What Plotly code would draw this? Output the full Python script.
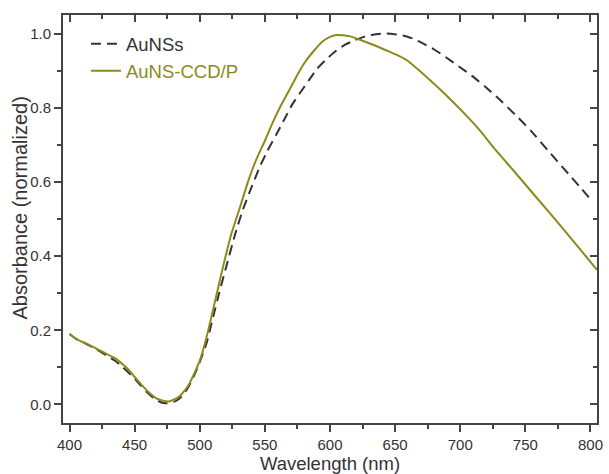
import plotly.graph_objects as go

# AuNSs (dashed)
wl_ref = [400, 405, 413, 420, 428, 435, 441, 447, 453, 459, 465, 470, 474, 478, 482, 486,
          490, 494, 499, 505, 510, 515, 521, 527, 533, 540, 546, 552, 559, 565, 571, 578,
          584, 590, 597, 603, 611, 619, 626, 633, 641, 648, 656, 664, 671, 680, 689,
          699, 709, 719, 729, 742, 755, 767, 780, 793, 800]
abs_ref = [0.19, 0.177, 0.163, 0.15, 0.133, 0.118, 0.10, 0.08, 0.058, 0.035, 0.016, 0.006,
           0.003, 0.005, 0.01, 0.021, 0.04, 0.065, 0.105, 0.163, 0.232, 0.302, 0.38, 0.457,
           0.524, 0.588, 0.640, 0.684, 0.729, 0.769, 0.809, 0.845, 0.875, 0.905, 0.93, 0.949,
           0.969, 0.982, 0.991, 0.997, 1.0, 0.999, 0.995, 0.986, 0.974, 0.957, 0.936,
           0.911, 0.886, 0.857, 0.826, 0.782, 0.735, 0.686, 0.634, 0.582, 0.553]

# AuNS-CCD/P (solid olive)
wl_ccd = [400, 405, 413, 420, 428, 435, 441, 445, 450, 455, 461, 466, 471, 476, 480, 484,
          489, 492, 496, 500, 504, 508, 513, 518, 524, 531, 537, 543, 550, 556, 562, 569,
          575, 581, 588, 594, 600, 605, 610, 615, 620, 627, 635, 643, 651, 659, 667, 675,
          690, 706, 716, 725, 742, 759, 775, 790, 805]
abs_ccd = [0.19, 0.177, 0.164, 0.152, 0.137, 0.125, 0.108, 0.095, 0.074, 0.054, 0.032,
           0.018, 0.011, 0.008, 0.013, 0.021, 0.04, 0.056, 0.085, 0.118, 0.165, 0.222, 0.298,
           0.373, 0.457, 0.533, 0.600, 0.657, 0.711, 0.760, 0.804, 0.849, 0.889, 0.924,
           0.955, 0.978, 0.991, 0.996, 0.9955, 0.993, 0.987, 0.978, 0.967, 0.955, 0.943,
           0.928, 0.905, 0.88, 0.831, 0.774, 0.735, 0.695, 0.626, 0.556, 0.49, 0.427, 0.363]

x_ticks = [400, 450, 500, 550, 600, 650, 700, 750, 800]
y_ticks = [0.0, 0.2, 0.4, 0.6, 0.8, 1.0]

OLIVE = "#8c8a1a"
DARK = "#333333"
AXC = "#444444"
FONT = "Liberation Sans, Arial, sans-serif"

fig = go.Figure()
fig.add_trace(go.Scatter(x=wl_ref, y=abs_ref, mode="lines", name="AuNSs",
                         line=dict(color=DARK, width=2, dash="10px,6px", shape="spline", smoothing=0.5)))
fig.add_trace(go.Scatter(x=wl_ccd, y=abs_ccd, mode="lines",
                         name=f"<span style='color:{OLIVE}'>AuNS-CCD/P</span>",
                         line=dict(color=OLIVE, width=2, shape="spline", smoothing=0.5)))
# dummy trace to realize the mirrored (top/right) axes
fig.add_trace(go.Scatter(x=[None], y=[None], xaxis="x2", yaxis="y2",
                         showlegend=False, hoverinfo="skip"))

xr = [395, 805]
yr = [-0.05, 1.05]

fig.update_layout(
    width=609, height=474,
    margin=dict(l=63, r=6, t=15, b=47),
    paper_bgcolor="white", plot_bgcolor="white",
    font=dict(family=FONT, color=DARK, size=15),
    showlegend=True,
    legend=dict(x=0.043, y=0.975, xanchor="left", yanchor="top",
                bgcolor="rgba(0,0,0,0)", font=dict(size=18.5, color=DARK),
                tracegroupgap=0),
    xaxis=dict(range=xr, tickvals=x_ticks, ticks="outside", ticklen=7, tickwidth=1.5,
               tickcolor=AXC, showline=True, linecolor=AXC, linewidth=2, showgrid=False,
               zeroline=False, tickfont=dict(size=15),
               minor=dict(ticks="outside", ticklen=4, tickwidth=1.5, tickcolor=AXC,
                          dtick=25, tick0=400, showgrid=False),
               title=dict(text="Wavelength (nm)", font=dict(size=18.5), standoff=2)),
    yaxis=dict(range=yr, tickvals=y_ticks, tickformat=".1f", ticks="outside", ticklen=7,
               tickwidth=1.5, tickcolor=AXC, showline=True, linecolor=AXC, linewidth=2,
               showgrid=False, zeroline=False, tickfont=dict(size=15),
               minor=dict(ticks="outside", ticklen=4, tickwidth=1.5, tickcolor=AXC,
                          dtick=0.1, tick0=0, showgrid=False)),
    xaxis2=dict(range=xr, overlaying="x", side="top", anchor="y2", tickvals=x_ticks,
                ticks="inside", ticklen=7, tickwidth=1.5, tickcolor=AXC, showline=True,
                linecolor=AXC, linewidth=2, showticklabels=False, showgrid=False,
                zeroline=False,
                minor=dict(ticks="inside", ticklen=4, tickwidth=1.5, tickcolor=AXC,
                           dtick=25, tick0=400, showgrid=False)),
    yaxis2=dict(range=yr, overlaying="y", side="right", anchor="x2", tickvals=y_ticks,
                ticks="inside", ticklen=7, tickwidth=1.5, tickcolor=AXC, showline=True,
                linecolor=AXC, linewidth=2, showticklabels=False, showgrid=False,
                zeroline=False,
                minor=dict(ticks="inside", ticklen=4, tickwidth=1.5, tickcolor=AXC,
                           dtick=0.1, tick0=0, showgrid=False)),
    annotations=[dict(text="Absorbance (normalized)", textangle=-90, showarrow=False,
                      xref="paper", yref="paper", x=-43 / 540, y=(427 - 210) / 412,
                      xanchor="center", yanchor="middle",
                      font=dict(size=20, color=DARK, family=FONT))],
)

fig.write_html("out.html")
